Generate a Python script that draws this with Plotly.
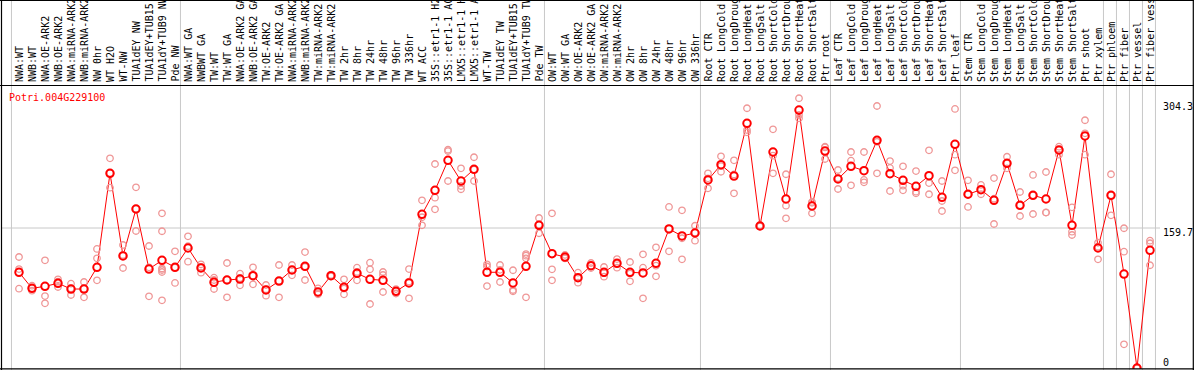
import plotly.graph_objects as go

W, H = 1194, 370

labels = [
    "NWA:WT", "NWB:WT", "NWA:OE-ARK2", "NWB:OE-ARK2", "NWA:miRNA-ARK2", "NWB:miRNA-ARK2",
    "NW 0hr", "WT H2O", "WT-NW", "TUA1dEY NW", "TUA1dEY+TUB15 NW", "TUA1dY+TUB9 NW", "Pde NW",
    "NWA:WT GA", "NWBWT GA", "TW:WT", "TW:WT GA", "NWA:OE-ARK2 GA", "NWB:OE-ARK2 GA",
    "TW:OE-ARK2", "TW:OE-ARK2 GA", "NWA:miRNA-ARK2 GA", "NWB:miRNA-ARK2 GA", "TW:miRNA-ARK2",
    "TW:miRNA-ARK2 GA", "TW 2hr", "TW 8hr", "TW 24hr", "TW 48hr", "TW 96hr", "TW 336hr",
    "WT ACC", "35S::etr1-1 H2O", "35S::etr1-1 ACC", "LMX5::etr1-1 H2O", "LMX5::etr1-1 ACC",
    "WT-TW", "TUA1dEY TW", "TUA1dEY+TUB15 TW", "TUA1dY+TUB9 TW", "Pde TW",
    "OW:WT", "OW:WT GA", "OW:OE-ARK2", "OW:OE-ARK2 GA", "OW:miRNA-ARK2", "OW:miRNA-ARK2 GA",
    "OW 2hr", "OW 8hr", "OW 24hr", "OW 48hr", "OW 96hr", "OW 336hr",
    "Root CTR", "Root LongCold", "Root LongDrought", "Root LongHeat", "Root LongSalt",
    "Root ShortCold", "Root ShortDrought", "Root ShortHeat", "Root ShortSalt", "Ptr root",
    "Leaf CTR", "Leaf LongCold", "Leaf LongDrought", "Leaf LongHeat", "Leaf LongSalt",
    "Leaf ShortCold", "Leaf ShortDrought", "Leaf ShortHeat", "Leaf ShortSalt", "Ptr leaf",
    "Stem CTR", "Stem LongCold", "Stem LongDrought", "Stem LongHeat", "Stem LongSalt",
    "Stem ShortCold", "Stem ShortDrought", "Stem ShortHeat", "Stem ShortSalt", "Ptr shoot",
    "Ptr xylem", "Ptr phloem", "Ptr fiber", "Ptr vessel", "Ptr fiber vessel",
]

means = [
    109.2, 90.9, 93.2, 96.6, 90.1, 90.1, 114.9, 222.1, 127.8, 181.4, 112.9, 122.8, 114.9,
    136.9, 114.1, 97.8, 100.4, 101.5, 105.3, 89.0, 99.2, 111.8, 116.0, 86.7, 105.3, 92.0,
    108.0, 101.2, 100.0, 87.5, 97.0, 175.3, 202.7, 236.9, 213.3, 226.7, 109.2, 109.2, 97.0,
    116.0, 162.8,
    130.4, 126.6, 103.0, 116.7, 109.2, 119.4, 109.2, 108.4, 119.4, 158.6, 150.6, 154.0,
    214.5, 231.9, 219.0, 279.1, 162.0, 246.4, 192.8, 294.3, 184.8, 247.5,
    215.6, 230.1, 225.1, 259.7, 221.7, 214.1, 207.3, 219.4, 194.7, 255.2,
    198.2, 203.4, 191.3, 233.5, 185.6, 197.0, 192.8, 248.7, 162.8, 264.7, 136.9,
    197.0, 107.2, 0.0, 134.3,
]

replicates = [
    [126.6, 112.9, 90.5], [93.9, 88.2, 91.0], [122.8, 82.1, 73.8], [101.2, 92.4, 98.5],
    [96.2, 83.3, 90.9], [98.1, 80.6, 90.5], [135.8, 125.1, 100.0], [239.2, 205.7, 222.4],
    [140.3, 114.1, 129.0], [206.1, 156.3, 181.8], [139.2, 81.8, 114.9],
    [176.5, 156.0, 111.8, 109.5, 113.5, 77.2], [133.1, 97.0, 114.6],
    [150.2, 121.3, 139.0], [118.3, 108.7, 115.3], [100.4, 90.1, 103.0], [119.8, 80.6, 100.8],
    [107.6, 94.3, 102.6], [114.9, 95.5, 105.5], [94.7, 82.5, 89.8], [117.5, 80.6, 99.5],
    [117.5, 105.7, 112.2], [132.3, 100.4, 115.3], [90.9, 84.1, 85.1], [105.3, 104.5, 106.1],
    [101.2, 84.1, 90.7], [114.4, 100.0, 109.6], [120.1, 112.6, 73.0], [109.5, 106.1, 86.7],
    [90.0, 87.5, 85.0], [112.9, 79.5, 98.6], [191.3, 162.8, 172.0], [232.7, 194.3, 181.0],
    [249.0, 247.5, 213.3], [227.8, 207.6, 203.9], [240.4, 213.3, 226.4], [118.3, 93.5, 115.8],
    [117.5, 98.1, 112.0], [111.5, 89.0, 87.5], [128.1, 125.1, 80.6, 130.0],
    [171.1, 153.7, 163.6],
    [176.5, 112.6, 100.0], [129.0, 126.0, 125.0], [108.7, 97.3, 103.0], [119.8, 116.7, 114.0],
    [115.2, 104.2, 108.2], [124.3, 114.4, 119.5], [120.9, 98.9, 107.8], [129.7, 114.4, 79.5],
    [137.7, 116.7, 104.6], [183.7, 133.1, 159.0], [179.9, 124.0, 148.0], [162.3, 145.2, 154.5],
    [222.1, 205.0, 216.4], [241.5, 223.9, 230.3], [236.9, 199.3, 220.8], [296.3, 271.5, 268.9],
    [163.0, 161.5, 161.5], [272.3, 242.2, 222.1], [221.0, 185.2, 170.8], [307.7, 288.6, 284.8],
    [189.4, 176.5, 188.5], [252.5, 238.4, 251.6],
    [225.9, 204.2, 216.7], [246.4, 236.5, 208.4], [246.4, 214.5, 211.8], [298.9, 222.1, 258.1],
    [236.1, 228.2, 201.9], [230.1, 208.0, 202.7], [224.7, 201.1, 199.3], [248.3, 211.0, 198.2],
    [213.3, 190.5, 179.1], [295.5, 243.3, 225.5],
    [214.1, 198.2, 183.7], [208.8, 203.1, 198.2], [216.7, 193.1, 164.3], [241.0, 233.5, 227.8],
    [200.8, 185.6, 173.4], [220.2, 197.0, 175.7], [223.6, 177.5, 177.3], [252.5, 248.7, 243.3],
    [183.3, 155.5, 151.7], [282.6, 267.7, 243.3], [142.9, 138.4, 124.0],
    [221.0, 197.0, 174.2], [159.4, 132.7, 27.0], [0.0, 0.0, 0.0], [145.2, 142.3, 117.2],
]

# group boundaries (index of first category in each group, plus the end)
group_starts = [0, 13, 41, 53, 63, 73, 84, 85, 86, 87, 88]

y_ticks = [0, 159.7, 304.3]
y_tick_text = ["0", "159.7", "304.3"]
title_text = "Potri.004G229100"

FONT = "DejaVu Sans Mono"
RED = "#ff0000"
PINK = "#ef9696"
GRID = "#c8c8c8"

xs = list(range(len(labels)))
rep_x, rep_y = [], []
for i, vals in enumerate(replicates):
    for v in vals:
        rep_x.append(i)
        rep_y.append(v)

fig = go.Figure()
# connecting line
fig.add_trace(go.Scatter(x=xs, y=means, mode="lines",
                         line=dict(color=RED, width=1), hoverinfo="skip"))
# white fill for mean markers (hides line inside)
fig.add_trace(go.Scatter(x=xs, y=means, mode="markers",
                         marker=dict(symbol="circle", size=7, color="white",
                                     line=dict(width=0)), hoverinfo="skip"))
# replicates
fig.add_trace(go.Scatter(x=rep_x, y=rep_y, mode="markers",
                         marker=dict(symbol="circle-open", size=6.5, color=PINK,
                                     line=dict(width=1.3, color=PINK))))
# mean rings
fig.add_trace(go.Scatter(x=xs, y=means, mode="markers",
                         marker=dict(symbol="circle-open", size=7.5, color=RED,
                                     line=dict(width=2, color=RED))))

def py(px):
    return 1 - px / H

def pxx(px):
    return px / W

shapes = []
# vertical gray gridlines at group boundaries
for b in group_starts:
    shapes.append(dict(type="line", xref="x", yref="paper", x0=b - 0.58, x1=b - 0.58,
                       y0=0, y1=1, line=dict(color=GRID, width=1), layer="below"))
# horizontal gray gridline at middle tick
shapes.append(dict(type="line", xref="paper", yref="y", x0=pxx(2), x1=pxx(1160),
                   y0=y_ticks[1], y1=y_ticks[1], line=dict(color=GRID, width=1), layer="below"))
# black frame
blk = dict(color="black", width=1.2)
shapes += [
    dict(type="line", xref="paper", yref="paper", x0=pxx(1.5), x1=pxx(1.5), y0=0, y1=1, line=blk),
    dict(type="line", xref="paper", yref="paper", x0=pxx(1193.3), x1=pxx(1193.3), y0=0, y1=1, line=blk),
    dict(type="line", xref="paper", yref="paper", x0=0, x1=1, y0=py(0.5), y1=py(0.5), line=blk),
    dict(type="line", xref="paper", yref="paper", x0=0, x1=1, y0=py(85.5), y1=py(85.5), line=blk),
    dict(type="line", xref="paper", yref="paper", x0=0, x1=1, y0=py(368.8), y1=py(368.8), line=blk),
]

annotations = []
for i, lab in enumerate(labels):
    annotations.append(dict(x=i, xref="x", y=py(84), yref="paper", text=lab,
                            textangle=-90, xanchor="center", yanchor="bottom",
                            showarrow=False, font=dict(family=FONT, size=10, color="black")))
annotations.append(dict(x=pxx(7), xref="paper", y=py(97), yref="paper", text=title_text,
                        xanchor="left", yanchor="middle", showarrow=False,
                        font=dict(family=FONT, size=10, color=RED)))
shifts = [6, -4.7, -5.5]
for v, t, s in zip(y_ticks, y_tick_text, shifts):
    annotations.append(dict(x=pxx(1161), xref="paper", y=v, yref="y", yshift=s, text=t,
                            xanchor="left", yanchor="middle", showarrow=False,
                            font=dict(family=FONT, size=10, color="black")))

fig.update_layout(
    width=W, height=H,
    margin=dict(l=0, r=0, t=0, b=0, pad=0),
    paper_bgcolor="white", plot_bgcolor="white",
    showlegend=False,
    xaxis=dict(range=[-19 / 13, (W - 19) / 13], domain=[0, 1], showgrid=False,
               zeroline=False, showticklabels=False, ticks="", showline=False, fixedrange=True),
    yaxis=dict(range=[-0.8, 321.7], domain=[1.3 / H, 1 - 86 / H], showgrid=False,
               zeroline=False, showticklabels=False, ticks="", showline=False, fixedrange=True),
    shapes=shapes,
    annotations=annotations,
)

fig.write_html(
    "out.html",
    config={"displayModeBar": False},
    post_script="document.body.style.margin='0';document.body.style.padding='0';"
                "document.body.style.overflow='hidden';",
)
